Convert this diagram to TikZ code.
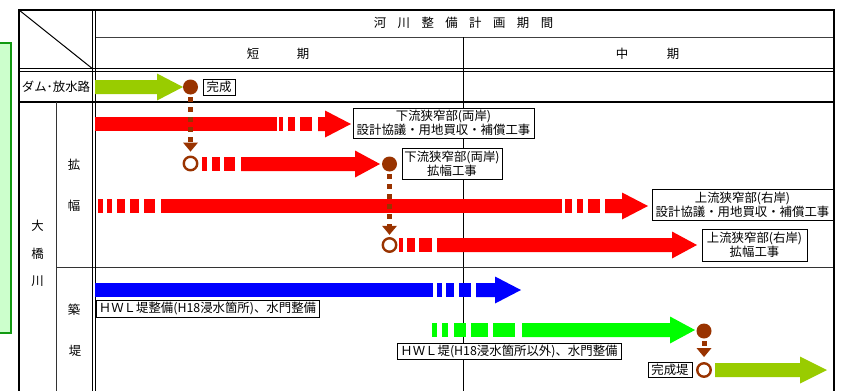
\documentclass[tikz,border=0pt]{standalone}
\usepackage{fontspec}
\newfontfamily\jp{Noto Sans CJK JP}
\usetikzlibrary{arrows.meta,shadows}
\definecolor{ygreen}{HTML}{99CC00}
\definecolor{brn}{HTML}{993300}
\definecolor{lgreen}{HTML}{CCFFCC}
\definecolor{dgreen}{HTML}{119911}
\definecolor{bgreen}{HTML}{00FF00}
\definecolor{rred}{HTML}{FF0000}
\definecolor{bblue}{HTML}{0000FF}
% bar segment: colour, x0, x1, y
\newcommand\seg[4]{\fill[#1] (#2,#4-7) rectangle (#3,#4+7);}
% arrow end: colour, shaft start, head start, tip, y
\newcommand\ahead[5]{\fill[#1] (#2,#5-7) -- (#3,#5-7) -- (#3,#5-13.5) -- (#4,#5) -- (#3,#5+13.5) -- (#3,#5+7) -- (#2,#5+7) -- cycle;}
\tikzset{
  lbl/.style={draw=black, line width=0.9pt, fill=white, inner sep=0pt, align=center,
    font=\jp\fontsize{12.4}{13.8}\selectfont,
    drop shadow={shadow xshift=1.1pt, shadow yshift=-1.1pt, fill=black!65, opacity=1}},
  hdr/.style={font=\jp\fontsize{12.4}{14}\selectfont, inner sep=0pt},
  dotc/.style={circle, fill=brn, minimum size=15pt, inner sep=0pt},
  openc/.style={circle, draw=brn, line width=2.4pt, fill=white, minimum size=13.5pt, inner sep=0pt},
  dotline/.style={brn, line width=5pt, dash pattern=on 5pt off 5pt,
    -{Triangle[width=15pt,length=9pt,line width=0pt]}},
}
\begin{document}
\begin{tikzpicture}[x=1pt,y=-1pt]
\useasboundingbox (0,0) rectangle (841,391);
% left green box
\draw[fill=lgreen, draw=dgreen, line width=2pt] (-5,43) rectangle (11,333);
% table
\draw[line width=0.8pt, black!75] (95,37) -- (834,37);
\draw[line width=0.9pt] (463.5,37) -- (463.5,395);
\draw[line width=0.8pt] (19,68.7) -- (834,68.7);
\draw[line width=0.8pt] (19,71.2) -- (834,71.2);
\draw[line width=1.6pt] (19,102) -- (834,102);
\draw[line width=0.8pt, black!80] (56,102) -- (56,395);
\draw[line width=0.8pt, black!80] (56,267.5) -- (834,267.5);
\draw[line width=0.8pt] (92.5,10) -- (92.5,395);
\draw[line width=0.8pt] (95,10) -- (95,395);
\draw[line width=1pt] (19,10) -- (92.5,68.7);
\draw[line width=2pt] (19,395) -- (19,10) -- (834,10) -- (834,395);
% header texts
\foreach \c [count=\i from 0] in {河,川,整,備,計,画,期,間}
  \node[hdr] (h\i) at (380+\i*23.86,23) {\c};
\node[hdr] (s1) at (253,54) {短};
\node[hdr] (s2) at (303,54) {期};
\node[hdr] (m1) at (622,54) {中};
\node[hdr] (m2) at (673,54) {期};
\node[hdr] (dam) at (56,87) {ダム･放水路};
\node[hdr] (o1c) at (37.5,226) {大};
\node[hdr] (o2c) at (37.5,254) {橋};
\node[hdr] (o3c) at (37.5,281) {川};
\node[hdr] (k1c) at (74,165) {拡};
\node[hdr] (k2c) at (74,206) {幅};
\node[hdr] (c1c) at (74,310) {築};
\node[hdr] (c2c) at (75,351) {堤};
% arrow 1 : dam
\ahead{ygreen}{95}{157}{183}{87}
% arrow 2 : red 1
\seg{rred}{95}{277}{124}
\seg{rred}{279}{283}{124}
\seg{rred}{288}{295}{124}
\seg{rred}{300}{312}{124}
\ahead{rred}{318}{325}{351}{124}
% arrow 3 : red 2
\seg{rred}{202}{207}{164}
\seg{rred}{212}{220}{164}
\seg{rred}{224}{235}{164}
\ahead{rred}{241}{355}{380}{164}
% arrow 4 : red 3
\seg{rred}{98}{103}{206}
\seg{rred}{107}{112}{206}
\seg{rred}{117}{125}{206}
\seg{rred}{130}{139}{206}
\seg{rred}{144}{155}{206}
\seg{rred}{161}{562}{206}
\seg{rred}{565}{572}{206}
\seg{rred}{577}{583}{206}
\seg{rred}{588}{600}{206}
\ahead{rred}{605}{622}{648}{206}
% arrow 5 : red 4
\seg{rred}{399}{403}{245}
\seg{rred}{407}{415}{245}
\seg{rred}{419}{432}{245}
\ahead{rred}{437}{672}{697}{245}
% arrow 6 : blue
\seg{bblue}{95}{433}{290}
\seg{bblue}{437}{442}{290}
\seg{bblue}{446}{454}{290}
\seg{bblue}{459}{471}{290}
\ahead{bblue}{476}{495}{521}{290}
% arrow 7 : green
\seg{bgreen}{432}{437}{330}
\seg{bgreen}{442}{448}{330}
\seg{bgreen}{454}{466}{330}
\seg{bgreen}{471}{488}{330}
\seg{bgreen}{493}{515}{330}
\ahead{bgreen}{522}{670}{695}{330}
% arrow 8 : completed levee
\ahead{ygreen}{715}{800}{827}{370}
% milestones
\node[dotc] (k1) at (190.5,87) {};
\node[openc] (o1) at (190.5,163.5) {};
\node[dotc] (k2) at (389.5,164) {};
\node[openc] (o2) at (389.5,245) {};
\node[dotc] (k3) at (704,331) {};
\node[openc] (o3) at (704,370) {};
\draw[dotline, shorten <=2.5pt, shorten >=4pt] (k1) -- (o1);
\draw[dotline, shorten <=2.5pt, shorten >=2.25pt] (k2) -- (o2);
\draw[dotline, shorten <=2.5pt, shorten >=5pt] (k3) -- (o3);
% labels
\node[lbl, minimum width=32pt, minimum height=16pt] (l0) at (219,87) {完成};
\node[lbl, minimum width=181pt, minimum height=30pt] (l1) at (443.5,123) {下流狭窄部(両岸)\\設計協議・用地買収・補償工事};
\node[lbl, minimum width=100pt, minimum height=31pt] (l2) at (452,163.5) {下流狭窄部(両岸)\\拡幅工事};
\node[lbl, minimum width=181pt, minimum height=31pt] (l3) at (742.5,204.5) {上流狭窄部(右岸)\\設計協議・用地買収・補償工事};
\node[lbl, minimum width=105pt, minimum height=32pt] (l4) at (754.5,245) {上流狭窄部(右岸)\\拡幅工事};
\node[lbl, minimum width=223pt, minimum height=17pt] (l5) at (207.5,308.5) {ＨＷＬ堤整備(H18浸水箇所)、水門整備};
\node[lbl, minimum width=224pt, minimum height=16pt] (l6) at (509,351) {ＨＷＬ堤(H18浸水箇所以外)、水門整備};
\node[lbl, minimum width=44pt, minimum height=15pt] (l7) at (670,369.5) {完成堤};
\end{tikzpicture}
\end{document}
